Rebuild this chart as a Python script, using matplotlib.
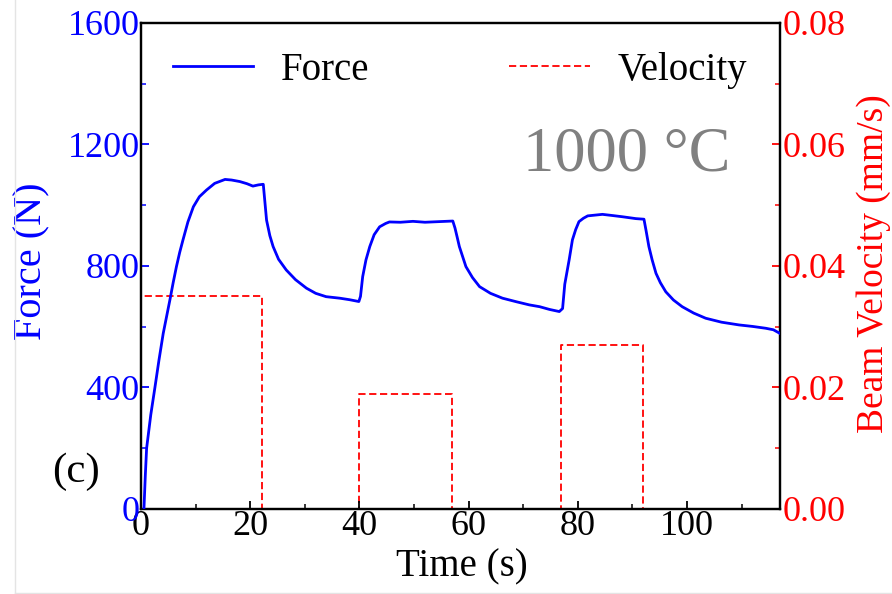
import matplotlib
matplotlib.use("Agg")
import matplotlib.pyplot as plt
from matplotlib.lines import Line2D
from matplotlib.ticker import MultipleLocator

plt.rcParams['font.family'] = ['Liberation Serif', 'DejaVu Serif']

# Measured force response (s, N)
time_s = [0.55, 0.8, 1.04, 1.8, 2.56, 3.3, 4.08, 5.3, 5.9, 6.5, 7.1, 7.7, 8.6, 9.6,
          10.7, 12.0, 13.5, 15.4, 16.6, 18.1, 19.4, 20.5, 21.5, 22.4,
          22.7, 23.0, 23.6, 24.2, 25.2, 26.6, 28.3, 30.3, 32.0, 33.9, 36.4, 38.2, 39.9,
          40.2, 40.6, 41.2, 41.9, 42.7, 43.7, 44.8, 45.5, 47.5, 49.8, 52.0, 54.5, 57.1,
          57.5, 57.9, 58.3, 59.5, 60.7, 62.0, 64.0, 66.2, 68.8, 71.1, 73.0, 74.8, 76.6,
          77.2, 77.6, 78.4, 79.0, 79.6, 80.2, 81.0, 81.8, 84.5, 86.4, 88.2, 90.6, 92.1,
          92.5, 93.0, 93.6, 94.3, 95.1, 96.1, 97.5, 99.1, 101.2, 103.4, 106.3, 109.5,
          112.0, 114.4, 115.8, 117.0]
force_n = [0, 110, 200, 310, 400, 490, 578, 688, 745, 798, 845, 886, 945, 995,
           1028, 1050, 1072, 1085, 1083, 1078, 1071, 1063, 1067, 1069,
           1010, 951, 900, 864, 822, 787, 755, 727, 710, 699, 694, 689, 683,
           700, 765, 820, 864, 903, 929, 940, 945, 944, 947, 944, 946, 948,
           925, 895, 864, 798, 762, 732, 710, 694, 682, 672, 666, 657, 650,
           660, 740, 820, 886, 920, 946, 957, 965, 970, 966, 962, 956, 954,
           915, 864, 820, 776, 745, 715, 688, 666, 645, 628, 615, 606,
           601, 595, 590, 578]

# Beam velocity program (s, mm/s)
vel_time = [0, 0, 22.1, 22.1, 39.9, 39.9, 57.0, 57.0, 77.0, 77.0, 92.0, 92.0]
vel_mm_s = [0, 0.035, 0.035, 0, 0, 0.019, 0.019, 0, 0, 0.027, 0.027, 0]

blue = '#0000FF'
red = '#FF0000'

fig = plt.figure(figsize=(8.92, 5.94), dpi=100)
ax = fig.add_axes([0.158, 0.1431, 0.7164, 0.8182])
ax2 = ax.twinx()

l_force, = ax.plot(time_s, force_n, color=blue, lw=2.0, label='Force', zorder=3)
l_vel, = ax2.plot(vel_time, vel_mm_s, color=red, lw=1.3, ls=(0, (4, 2)),
                  label='Velocity')
ax.set_zorder(ax2.get_zorder() + 1)
ax.patch.set_visible(False)

ax.set_xlim(0, 117)
ax.set_ylim(0, 1600)
ax2.set_ylim(0, 0.08)

ax.xaxis.set_major_locator(MultipleLocator(20))
ax.xaxis.set_minor_locator(MultipleLocator(10))
ax.yaxis.set_major_locator(MultipleLocator(400))
ax.yaxis.set_minor_locator(MultipleLocator(200))
ax2.yaxis.set_major_locator(MultipleLocator(0.02))
ax2.yaxis.set_minor_locator(MultipleLocator(0.01))
ax2.yaxis.set_major_formatter(plt.FormatStrFormatter('%.2f'))

for a in (ax, ax2):
    for s in a.spines.values():
        s.set_linewidth(1.6)

ax.tick_params(axis='x', which='both', direction='in', top=False, labelsize=26,
               pad=1)
ax.tick_params(axis='x', which='major', length=6, width=1.3)
ax.tick_params(axis='x', which='minor', length=3.5, width=1.1)
ax.tick_params(axis='y', which='both', direction='in', colors=blue, labelsize=26,
               pad=1)
ax.tick_params(axis='y', which='major', length=6, width=1.3)
ax.tick_params(axis='y', which='minor', length=3.5, width=1.1)
ax2.tick_params(axis='y', which='both', direction='in', colors=red, labelsize=26,
                pad=2)
ax2.tick_params(axis='y', which='major', length=6, width=1.3)
ax2.tick_params(axis='y', which='minor', length=3.5, width=1.1)

ax.set_xlabel('Time (s)', fontsize=28)
ax.xaxis.set_label_coords(0.502, -0.082)
ax.set_ylabel('Force (N)', fontsize=29, color=blue)
ax.yaxis.set_label_coords(-0.142, 0.51)
ax2.set_ylabel('Beam Velocity (mm/s)', fontsize=27, color=red, rotation=90)
ax2.yaxis.set_label_coords(1.119, 0.505)

ax.legend(handles=[l_force, l_vel], loc='center left', ncol=2, frameon=False,
          bbox_to_anchor=(0.05, 0.903), borderaxespad=0, borderpad=0,
          fontsize=28, handlelength=2.06, handletextpad=0.72, columnspacing=3.6)

ax.text(0.76, 0.728, '1000 °C', transform=ax.transAxes, fontsize=45,
        color='#808080', ha='center', va='center')
fig.text(0.085, 0.205, '(c)', fontsize=31, ha='center', va='center')

# thin outer frame lines
fig.add_artist(Line2D([0.0168, 0.0168], [0.0017, 1.0], transform=fig.transFigure,
                      color='#e4e4e4', lw=1))
fig.add_artist(Line2D([0.0168, 1.0], [0.0017, 0.0017], transform=fig.transFigure,
                      color='#e4e4e4', lw=1))

fig.savefig('out.png', dpi=100)
